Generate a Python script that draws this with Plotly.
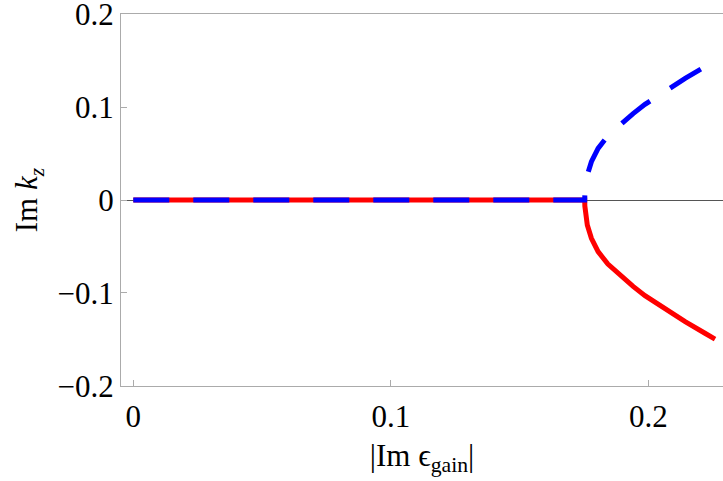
import plotly.graph_objects as go

# Data
x_branch = [0.0, 0.1753, 0.17535, 0.1755, 0.1763, 0.1779, 0.1805, 0.1843, 0.1889, 0.1941, 0.1987, 0.2065, 0.2143, 0.2220, 0.2259]
y_red = [0.0, 0.0, -0.0065, -0.0126, -0.0269, -0.0412, -0.0556, -0.0690, -0.0805, -0.0930, -0.1030, -0.1175, -0.1309, -0.1434, -0.1497]
y_blue = [0.0, 0.0, 0.0065, 0.0126, 0.0269, 0.0412, 0.0556, 0.0690, 0.0805, 0.0930, 0.1030, 0.1175, 0.1309, 0.1434, 0.1497]

x_ticks = [0, 0.1, 0.2]
x_ticktext = ["0", "0.1", "0.2"]
y_ticks = [-0.2, -0.1, 0, 0.1, 0.2]
y_ticktext = ["\u22120.2", "\u22120.1", "0", "0.1", "0.2"]

FONT = "Liberation Serif"
FRAME = "#ababab"
FS = 31

fig = go.Figure()
fig.add_trace(go.Scatter(x=x_branch, y=y_red, mode="lines",
                         line=dict(color="#ff0000", width=5), hoverinfo="skip"))
fig.add_trace(go.Scatter(x=x_branch, y=y_blue, mode="lines",
                         line=dict(color="#0000ff", width=5, dash="36px,24px"),
                         hoverinfo="skip"))

fig.update_layout(
    width=723, height=481,
    margin=dict(l=121, r=0, t=14, b=95),
    paper_bgcolor="white", plot_bgcolor="white",
    showlegend=False,
    font=dict(family=FONT, size=FS, color="black"),
    xaxis=dict(
        range=[-0.00478, 0.229], automargin=False,
        tickvals=x_ticks, ticktext=x_ticktext,
        ticks="inside", ticklen=6, tickcolor=FRAME, tickwidth=1,
        ticklabelstandoff=3, ticklabeloverflow="allow",
        showline=True, linecolor=FRAME, linewidth=1.3, mirror=True,
        showgrid=False, zeroline=False,
        tickfont=dict(family=FONT, size=FS),
        title=dict(text="|Im \u03f5<sub>gain</sub>|", standoff=10,
                   font=dict(family=FONT, size=FS)),
    ),
    yaxis=dict(
        range=[-0.2002, 0.2002], automargin=False,
        tickvals=y_ticks, ticktext=y_ticktext,
        ticks="inside", ticklen=6, tickcolor=FRAME, tickwidth=1,
        ticklabeloverflow="allow",
        showline=True, linecolor=FRAME, linewidth=1.3, mirror=False,
        showgrid=False, zeroline=True, zerolinecolor="#555555", zerolinewidth=1,
        tickfont=dict(family=FONT, size=FS),
        title=dict(text="Im <i>k</i><sub><i>z</i></sub>", standoff=10,
                   font=dict(family=FONT, size=FS)),
    ),
)

fig.write_html("out.html", config={"displayModeBar": False},
               post_script="document.body.style.margin='0';")
